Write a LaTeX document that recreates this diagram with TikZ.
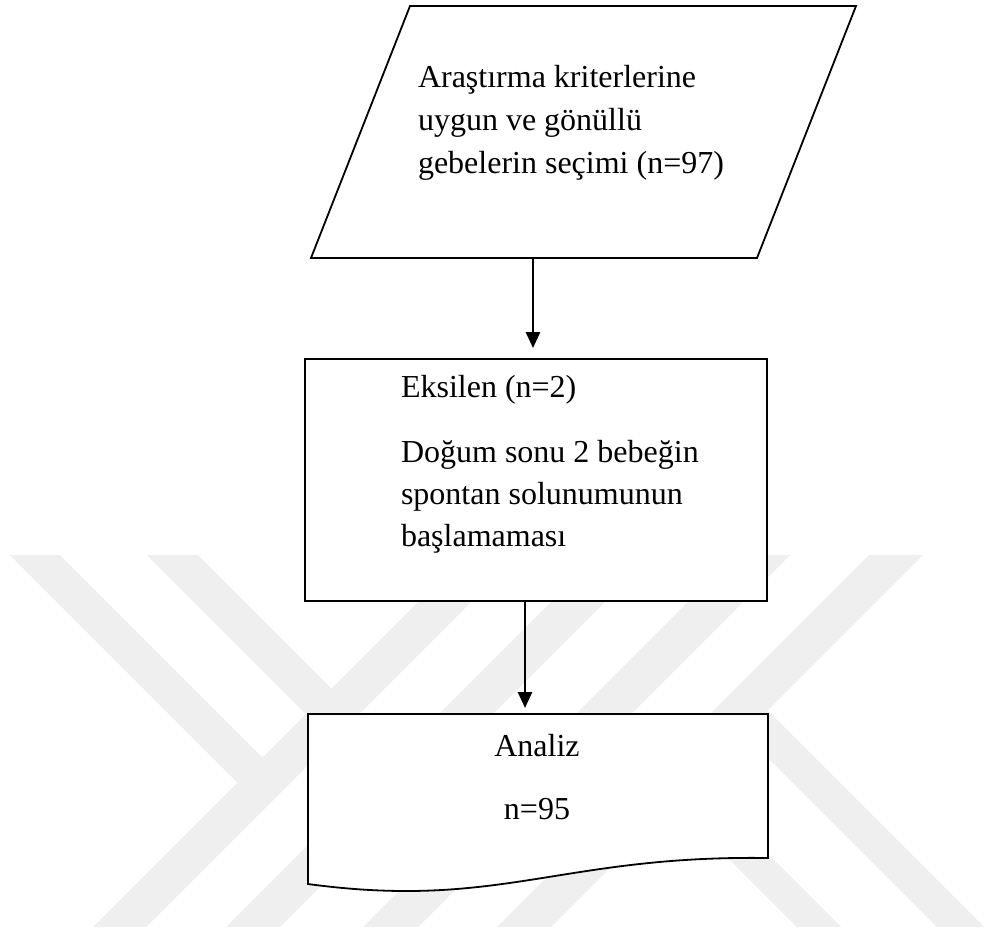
\documentclass[tikz,border=0pt]{standalone}
\usepackage{fontspec}
\setmainfont{Liberation Serif}
\usetikzlibrary{arrows.meta}
\definecolor{wm}{RGB}{239,239,239}
\begin{document}
\begin{tikzpicture}[x=1pt,y=-1pt,
  band/.style={fill=wm,draw=none},
  shapeline/.style={draw=black,line width=1.8pt,fill=white,line join=miter},
  hidden/.style={draw=none,inner sep=0pt,outer sep=0pt},
  conn/.style={draw=black,line width=2.6pt,-{Triangle[length=16pt,width=14pt]}},
  txt/.style={font=\fontsize{32}{42}\selectfont,inner sep=0pt,outer sep=0pt},
]
\useasboundingbox (0,0) rectangle (984,931);
% watermark bands
\fill[band] (10,555) -- (60,555) -- (289,784) -- (264,809) -- cycle;
\fill[band] (147,555) -- (198,555) -- (358,715) -- (332,740) -- cycle;
\fill[band] (465,555) -- (518,555) -- (146,927) -- (93,927) -- cycle;
\fill[band] (598,555) -- (652,555) -- (280,927) -- (226,927) -- cycle;
\fill[band] (735,555) -- (790,555) -- (418,927) -- (363,927) -- cycle;
\fill[band] (869,555) -- (923,555) -- (551,927) -- (497,927) -- cycle;
\fill[band] (754,697) -- (984,927) -- (937,927) -- (730,720) -- cycle;
\fill[band] (682,768) -- (841,927) -- (797,927) -- (660,790) -- cycle;

% parallelogram (input)
\coordinate (pTL) at (410,6);
\coordinate (pTR) at (856,6);
\coordinate (pBR) at (757,258);
\coordinate (pBL) at (311,258);
\draw[shapeline] (pTL) -- (pTR) -- (pBR) -- (pBL) -- cycle;
\node[hidden,minimum width=300pt,minimum height=252pt] (para) at (533,132) {};
\node[txt,anchor=base west] (t1) at (418,88) {Araştırma kriterlerine};
\node[txt,anchor=base west] (t2) at (418,131) {uygun ve gönüllü};
\node[txt,anchor=base west] (t3) at (418,173) {gebelerin seçimi (n=97)};

% box 2
\node[shapeline,minimum width=462pt,minimum height=242pt,inner sep=0pt] (box2) at (536,480) {};
\node[txt,anchor=base west] (e1) at (401,397) {Eksilen (n=2)};
\node[txt,anchor=base west] (e2) at (401,462) {Doğum sonu 2 bebeğin};
\node[txt,anchor=base west] (e3) at (401,504) {spontan solunumunun};
\node[txt,anchor=base west] (e4) at (401,546) {başlamaması};

% box 3 (document shape)
\node[hidden,minimum width=460pt,minimum height=170pt] (box3) at (538,799) {};
\coordinate (ax2) at (525,601);
\draw[shapeline] (box3.north west) -- (box3.north east) -- (768,858)
  .. controls (560,855) and (500,910) .. (box3.south west) -- cycle;
\node[txt,anchor=base] (a1) at (537,756) {Analiz};
\node[txt,anchor=base] (a2) at (537,819) {n=95};

% connectors
\draw[conn,shorten >=10pt] (para.south) -- (para.south |- box2.north);
\draw[conn,shorten >=6pt] (ax2) -- (ax2 |- box3.north);
\end{tikzpicture}
\end{document}
